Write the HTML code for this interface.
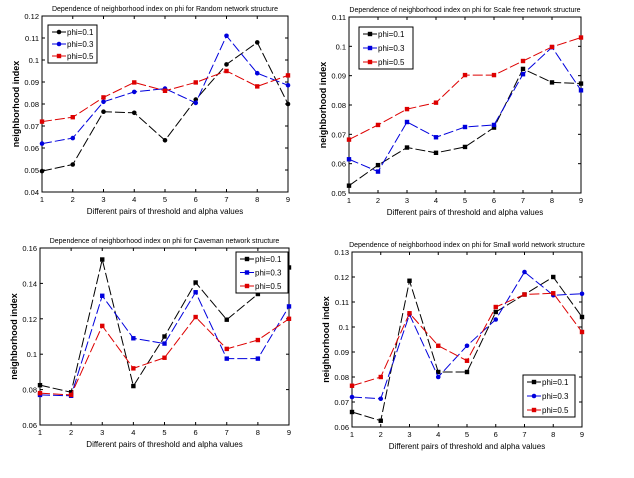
<!DOCTYPE html>
<html><head><meta charset="utf-8"><style>
body{margin:0;background:#fff}
svg{display:block;font-family:"Liberation Sans",sans-serif}
</style></head><body>
<svg id="fig" width="634" height="478" xmlns="http://www.w3.org/2000/svg"></svg>
<script>
const categories=[1,2,3,4,5,6,7,8,9];
const seriesNames=["phi=0.1","phi=0.3","phi=0.5"];
const randomPhi01=[0.0495,0.0525,0.0765,0.076,0.0635,0.082,0.098,0.108,0.080];
const randomPhi03=[0.062,0.0645,0.081,0.0855,0.087,0.0805,0.111,0.094,0.0885];
const randomPhi05=[0.072,0.074,0.083,0.0898,0.086,0.0898,0.095,0.088,0.093];
const scalePhi01=[0.0525,0.0595,0.0655,0.0637,0.0657,0.0723,0.0923,0.0877,0.0873];
const scalePhi03=[0.0615,0.0573,0.0742,0.069,0.0725,0.0732,0.0905,0.0997,0.085];
const scalePhi05=[0.0682,0.0732,0.0786,0.0808,0.0902,0.0902,0.095,0.0998,0.103];
const cavePhi01=[0.0825,0.0785,0.1535,0.082,0.110,0.1405,0.1195,0.134,0.149];
const cavePhi03=[0.077,0.0765,0.133,0.109,0.106,0.135,0.0975,0.0975,0.127];
const cavePhi05=[0.078,0.077,0.116,0.092,0.098,0.121,0.103,0.108,0.120];
const smallPhi01=[0.066,0.0625,0.1185,0.082,0.082,0.106,0.113,0.120,0.104];
const smallPhi03=[0.072,0.0713,0.105,0.080,0.0925,0.103,0.122,0.1127,0.1133];
const smallPhi05=[0.0765,0.080,0.1055,0.0925,0.0865,0.108,0.113,0.1135,0.098];
const ticksRandom=["0.04","0.05","0.06","0.07","0.08","0.09","0.1","0.11","0.12"];
const ticksScale=["0.05","0.06","0.07","0.08","0.09","0.1","0.11"];
const ticksCave=["0.06","0.08","0.1","0.12","0.14","0.16"];
const ticksSmall=["0.06","0.07","0.08","0.09","0.1","0.11","0.12","0.13"];

const NS="http://www.w3.org/2000/svg";
const svg=document.getElementById('fig');
function mk(tag,attrs,parent){const e=document.createElementNS(NS,tag);for(const k in attrs)e.setAttribute(k,attrs[k]);(parent||svg).appendChild(e);return e;}
const colors=["#000","#0000dd","#dd0000"];

function plot(cfg){
  const g=mk('g',{});
  
  
  const ticks=cfg.ticks.map(Number);
  const ymin=ticks[0],ymax=ticks[ticks.length-1];
  const X=v=>cfg.l+(v-1)/(categories.length-1)*(cfg.r-cfg.l);
  const Y=v=>cfg.b-(v-ymin)/(ymax-ymin)*(cfg.b-cfg.t);
  const box=mk('rect',{x:cfg.l,y:cfg.t,width:cfg.r-cfg.l,height:cfg.b-cfg.t,fill:'#fff',stroke:'#000','stroke-width':1},g);
  
  
  const title=mk('text',{x:(cfg.l+cfg.r)/2,y:cfg.t-5,'font-size':7,'text-anchor':'middle',fill:'#000'},g);
  title.textContent=cfg.title;
  
  
  categories.forEach(c=>{
    const x=X(c);
    mk('line',{x1:x,x2:x,y1:cfg.b,y2:cfg.b-3,stroke:'#000'},g);
    mk('line',{x1:x,x2:x,y1:cfg.t,y2:cfg.t+3,stroke:'#000'},g);
    const t=mk('text',{x:x,y:cfg.b+10,'font-size':7.5,'text-anchor':'middle'},g);
    t.textContent=c;
    
    
  });
  cfg.ticks.forEach((lab,i)=>{
    const y=Y(ticks[i]);
    mk('line',{x1:cfg.l,x2:cfg.l+3,y1:y,y2:y,stroke:'#000'},g);
    mk('line',{x1:cfg.r,x2:cfg.r-3,y1:y,y2:y,stroke:'#000'},g);
    const t=mk('text',{x:cfg.l-3,y:y+3,'font-size':7.5,'text-anchor':'end'},g);
    t.textContent=lab;
    
    
  });
  const xl=mk('text',{x:(cfg.l+cfg.r)/2,y:cfg.b+22,'font-size':8,'text-anchor':'middle'},g);
  xl.textContent="Different pairs of threshold and alpha values";
  
  
  const yx=cfg.l-23,yy=(cfg.t+cfg.b)/2;
  const yl=mk('text',{x:yx,y:yy,'font-size':9,'font-weight':'bold','text-anchor':'middle',transform:`rotate(-90 ${yx} ${yy})`},g);
  yl.textContent="neighborhood index";
  
  
  cfg.series.forEach((s,si)=>{
    const pts=s.map((v,i)=>X(categories[i])+','+Y(v)).join(' ');
    const pl=mk('polyline',{points:pts,fill:'none',stroke:colors[si],'stroke-width':1,'stroke-dasharray':'10,3'},g);
    
    
    s.forEach((v,i)=>{
      let m;
      if(cfg.markers[si]==='o') m=mk('circle',{cx:X(categories[i]),cy:Y(v),r:2.3,fill:colors[si]},g);
      else m=mk('rect',{x:X(categories[i])-2.2,y:Y(v)-2.2,width:4.4,height:4.4,fill:colors[si]},g);
      
      
    });
  });
  const L=cfg.leg;
  const lg=mk('g',{},g);
  
  
  mk('rect',{x:L[0],y:L[1],width:L[2],height:L[3],fill:'#fff',stroke:'#000'},lg);
  seriesNames.forEach((n,si)=>{
    const y=L[1]+7+si*(L[3]-14)/2;
    mk('line',{x1:L[0]+4,x2:L[0]+18,y1:y,y2:y,stroke:colors[si]},lg);
    if(cfg.markers[si]==='o') mk('circle',{cx:L[0]+11,cy:y,r:2.3,fill:colors[si]},lg);
    else mk('rect',{x:L[0]+8.8,y:y-2.2,width:4.4,height:4.4,fill:colors[si]},lg);
    const t=mk('text',{x:L[0]+19,y:y+3,'font-size':8},lg);
    t.textContent=n;
    
    
  });
}
plot({name:'random-network-chart',title:'Dependence of neighborhood index on phi for Random network structure',l:42,r:288,t:16,b:192,ticks:ticksRandom,series:[randomPhi01,randomPhi03,randomPhi05],markers:['o','o','s'],leg:[48,25,49,38]});
plot({name:'scale-free-chart',title:'Dependence of neighborhood index on phi for Scale free network structure',l:349,r:581,t:17,b:193,ticks:ticksScale,series:[scalePhi01,scalePhi03,scalePhi05],markers:['s','s','s'],leg:[359,27,54,42]});
plot({name:'caveman-chart',title:'Dependence of neighborhood index on phi for Caveman network structure',l:40,r:289,t:248,b:425,ticks:ticksCave,series:[cavePhi01,cavePhi03,cavePhi05],markers:['s','s','s'],leg:[236,252,52,41]});
plot({name:'small-world-chart',title:'Dependence of neighborhood index on phi for Small world network structure',l:352,r:582,t:252,b:427,ticks:ticksSmall,series:[smallPhi01,smallPhi03,smallPhi05],markers:['s','o','s'],leg:[523,375,52,42]});
</script>
</body></html>
